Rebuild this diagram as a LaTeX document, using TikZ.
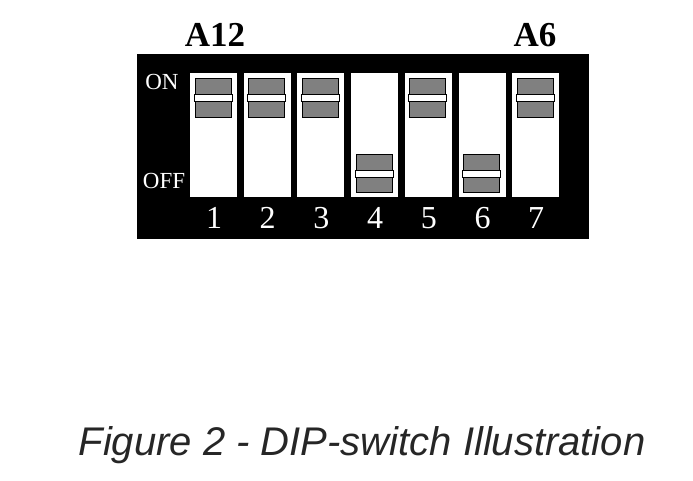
\documentclass[tikz,border=0pt]{standalone}
\usepackage{fontspec}
\setmainfont{Liberation Serif}
\newfontfamily\capfont{Liberation Sans}
\definecolor{knob}{HTML}{808080}
\begin{document}
\begin{tikzpicture}[x=1pt,y=-1pt,
  slot/.style={fill=white},
  knobbox/.style={fill=knob,draw=black,line width=0.8pt},
  bar/.style={fill=white,draw=black,line width=0.8pt},
  wlab/.style={text=white,font=\fontsize{23}{23}\selectfont,inner sep=0pt},
  num/.style={text=white,font=\fontsize{32}{32}\selectfont,inner sep=0pt},
  alab/.style={font=\bfseries\fontsize{35}{35}\selectfont,inner sep=0pt}]
\useasboundingbox (0,0) rectangle (693,481);
\fill[black] (137,54) rectangle (589,239);
\foreach \i/\st in {1/1,2/1,3/1,4/0,5/1,6/0,7/1}{
  \pgfmathsetmacro{\xa}{190+(\i-1)*53.7}
  \fill[white] (\xa,73) rectangle (\xa+47,197);
  \ifnum\st=1
    \draw[knobbox] (\xa+5,78) rectangle (\xa+41,117);
    \draw[bar] (\xa+4,94.5) rectangle (\xa+42,101.5);
  \else
    \draw[knobbox] (\xa+5,154) rectangle (\xa+41,192);
    \draw[bar] (\xa+4,170) rectangle (\xa+42,177);
  \fi
  \node[num] (n\i) at (\xa+24,218) {\i};
}
\node[wlab] (on) at (162,82) {ON};
\node[wlab] (off) at (164,181) {OFF};
\node[alab] (a12) at (215,35) {A12};
\node[alab] (a6) at (535,35) {A6};
\node[font=\capfont\itshape\fontsize{40}{40}\selectfont,text=black!85,inner sep=0pt] (cap) at (362,445) {Figure 2 - DIP-switch Illustration};
\end{tikzpicture}
\end{document}
